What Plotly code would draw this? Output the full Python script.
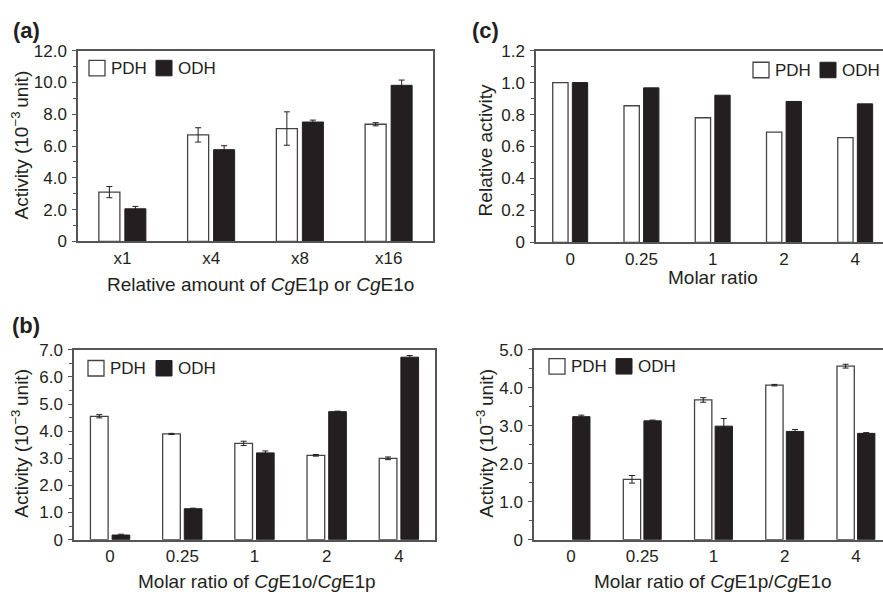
import plotly.graph_objects as go

# ---------------- data ----------------
cats_a = ["x1", "x4", "x8", "x16"]
pdh_a = [3.1, 6.7, 7.1, 7.37]
pdh_a_err = [0.35, 0.45, 1.05, 0.1]
odh_a = [2.05, 5.77, 7.51, 9.82]
odh_a_err = [0.15, 0.25, 0.12, 0.33]

cats_b = ["0", "0.25", "1", "2", "4"]
pdh_b = [4.55, 3.9, 3.55, 3.11, 3.0]
pdh_b_err = [0.06, 0.02, 0.08, 0.03, 0.05]
odh_b = [0.17, 1.14, 3.2, 4.72, 6.73]
odh_b_err = [0.03, 0.02, 0.07, 0.02, 0.06]

cats_c = ["0", "0.25", "1", "2", "4"]
pdh_c = [1.0, 0.855, 0.78, 0.69, 0.655]
odh_c = [1.0, 0.967, 0.921, 0.882, 0.867]

cats_d = ["0", "0.25", "1", "2", "4"]
pdh_d = [None, 1.59, 3.68, 4.07, 4.57]
pdh_d_err = [0, 0.1, 0.06, 0.02, 0.05]
odh_d = [3.24, 3.13, 2.99, 2.85, 2.8]
odh_d_err = [0.04, 0.02, 0.2, 0.05, 0.02]

ticks_a = [0, 2, 4, 6, 8, 10, 12]
ticktext_a = ["0", "2.0", "4.0", "6.0", "8.0", "10.0", "12.0"]
ticks_b = [0, 1, 2, 3, 4, 5, 6, 7]
ticktext_b = ["0", "1.0", "2.0", "3.0", "4.0", "5.0", "6.0", "7.0"]
ticks_c = [0, 0.2, 0.4, 0.6, 0.8, 1.0, 1.2]
ticktext_c = ["0", "0.2", "0.4", "0.6", "0.8", "1.0", "1.2"]
ticks_d = [0, 1, 2, 3, 4, 5]
ticktext_d = ["0", "1.0", "2.0", "3.0", "4.0", "5.0"]

# ---------------- styling ----------------
W, H = 883, 600
FONT = "Liberation Sans, Arial, sans-serif"
INK = "#231f20"
FRAME = "#555555"
EDGE = "#444444"
WHITE = "#ffffff"


def xp(px):
    return px / W


def yp(py):
    return 1 - py / H


fig = go.Figure()


def add_pair(cats, pdh, pdh_err, odh, odh_err, xa, ya, width, gap):
    off1 = -(width + gap / 2)
    off2 = gap / 2
    ekw = dict(type="data", color=INK, thickness=1, width=3)
    fig.add_trace(go.Bar(
        x=cats, y=pdh, name="PDH", xaxis=xa, yaxis=ya,
        width=width, offset=off1,
        marker=dict(color=WHITE, line=dict(color=EDGE, width=1.3)),
        error_y=dict(array=pdh_err, **ekw) if pdh_err is not None else None,
        showlegend=False,
    ))
    fig.add_trace(go.Bar(
        x=cats, y=odh, name="ODH", xaxis=xa, yaxis=ya,
        width=width, offset=off2,
        marker=dict(color=INK, line=dict(color=INK, width=1)),
        error_y=dict(array=odh_err, **ekw) if odh_err is not None else None,
        showlegend=False,
    ))


add_pair(cats_a, pdh_a, pdh_a_err, odh_a, odh_a_err, "x", "y", 0.237, 0.056)
add_pair(cats_c, pdh_c, None, odh_c, None, "x2", "y2", 0.215, 0.06)
add_pair(cats_b, pdh_b, pdh_b_err, odh_b, odh_b_err, "x3", "y3", 0.245, 0.055)
add_pair(cats_d, pdh_d, pdh_d_err, odh_d, odh_d_err, "x4", "y4", 0.243, 0.046)


def xax(domain, rng, mirror, anchor):
    return dict(
        domain=domain, range=rng, anchor=anchor, type="category",
        showline=True, linecolor=FRAME, linewidth=1.5, mirror=mirror,
        ticks="", showgrid=False, zeroline=False,
        tickfont=dict(size=17, color=INK, family=FONT),
        ticklabelstandoff=0,
    )


def yax(domain, rng, tv, tt, minor_dt, mirror, anchor):
    return dict(
        domain=domain, range=rng, anchor=anchor,
        showline=True, linecolor=FRAME, linewidth=1.5, mirror=mirror,
        ticks="outside", ticklen=4, tickwidth=1, tickcolor=FRAME,
        tickvals=tv, ticktext=tt,
        minor=dict(dtick=minor_dt, ticks="outside", ticklen=3, tickwidth=1, tickcolor=FRAME),
        showgrid=False, zeroline=False,
        tickfont=dict(size=17, color=INK, family=FONT),
        ticklabelstandoff=2,
    )


# panel pixel boxes (left, right, top, bottom)
A = (78, 433, 43, 240)
C = (536, 883, 43, 241)
B = (74, 435, 352, 548)
D = (534, 883, 352, 548)


def dom(box):
    l, r, t, b = box
    return [xp(l), min(1.0, xp(r))], [yp(b), yp(t)]


dxa, dya = dom(A)
dxc, dyc = dom(C)
dxb, dyb = dom(B)
dxd, dyd = dom(D)

fig.update_layout(
    width=W, height=H,
    margin=dict(l=0, r=0, t=0, b=0),
    paper_bgcolor="white", plot_bgcolor="white",
    font=dict(family=FONT, color=INK, size=17),
    barmode="overlay",
    showlegend=False,
    xaxis=xax(dxa, [-0.5, 3.5], True, "y"),
    yaxis=yax(dya, [0, 12], ticks_a, ticktext_a, 1, True, "x"),
    xaxis2=xax(dxc, [-0.48, 4.39], True, "y2"),
    yaxis2=yax(dyc, [0, 1.2], ticks_c, ticktext_c, 0.1, False, "x2"),
    xaxis3=xax(dxb, [-0.5, 4.5], True, "y3"),
    yaxis3=yax(dyb, [0, 7], ticks_b, ticktext_b, 0.5, True, "x3"),
    xaxis4=xax(dxd, [-0.52, 4.38], True, "y4"),
    yaxis4=yax(dyd, [0, 5], ticks_d, ticktext_d, 0.5, False, "x4"),
)

annotations = []
shapes = []


def text(x, y, s, size=19, angle=0, xanchor="center", bold=False):
    annotations.append(dict(
        x=xp(x), y=yp(y), xref="paper", yref="paper", text=("<b>%s</b>" % s) if bold else s,
        showarrow=False, textangle=angle, xanchor=xanchor, yanchor="middle",
        font=dict(size=size, color=INK, family=FONT),
    ))


# panel labels
text(11, 22, "(a)", size=22, xanchor="left", bold=True)
text(470, 22, "(c)", size=22, xanchor="left", bold=True)
text(10, 327, "(b)", size=22, xanchor="left", bold=True)

# axis titles
ytitle = "Activity (10<sup>\u22123 </sup>unit)"
text(20, 141, ytitle, angle=-90)
text(485, 146, "Relative activity", angle=-90)
text(20, 449, ytitle, angle=-90)
text(485, 449, ytitle, angle=-90)

text(260, 284, "Relative amount of <i>Cg</i>E1p or <i>Cg</i>E1o")
text(713, 277, "Molar ratio")
text(257, 591, "Molar ratio of <i>Cg</i>E1o/<i>Cg</i>E1p")
text(713, 591, "Molar ratio of <i>Cg</i>E1p/<i>Cg</i>E1o")


# legends: (white box x0, y0) ; black box x0 ; size
def legend(wx, wy, bx, size=16):
    shapes.append(dict(type="rect", xref="paper", yref="paper",
                       x0=xp(wx), x1=xp(wx + size), y0=yp(wy + size), y1=yp(wy),
                       fillcolor=WHITE, line=dict(color=EDGE, width=1.3)))
    shapes.append(dict(type="rect", xref="paper", yref="paper",
                       x0=xp(bx), x1=xp(bx + size), y0=yp(wy + size), y1=yp(wy),
                       fillcolor=INK, line=dict(color=INK, width=1)))
    text(wx + size + 4, wy + size / 2 + 0.5, "PDH", size=17, xanchor="left")
    text(bx + size + 4, wy + size / 2 + 0.5, "ODH", size=17, xanchor="left")


legend(89, 53, 156)
legend(88, 363, 156)
legend(753, 55, 820)
legend(549, 361, 616)

fig.update_layout(annotations=annotations, shapes=shapes)

fig.write_html("out.html", config={"displayModeBar": False},
               post_script="document.body.style.margin='0px';")
